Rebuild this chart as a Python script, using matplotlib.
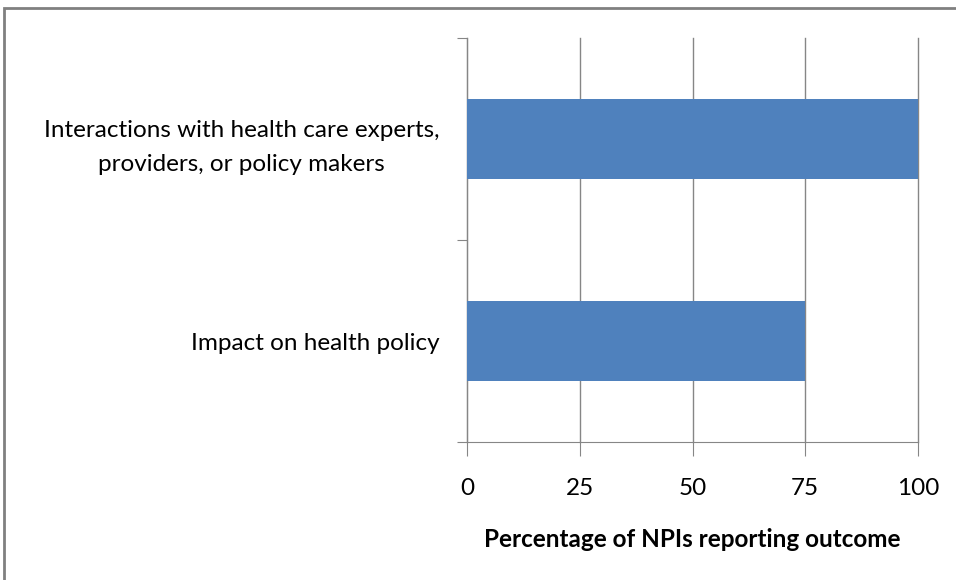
import matplotlib.pyplot as plt
from matplotlib.patches import Rectangle

categories = ["Impact on health policy",
              "Interactions with health care experts,\nproviders, or policy makers"]
values = [75, 100]
xticks = [0, 25, 50, 75, 100]

plt.rcParams['font.family'] = ['Lato', 'DejaVu Sans']
grey = "#868686"

fig = plt.figure(figsize=(9.56, 5.8), dpi=100)
ax = fig.add_axes([467 / 956, 1 - 442 / 580, (918 - 467) / 956, (442 - 38) / 580])

ax.barh(range(len(categories)), values, height=0.4, color="#4F81BD", zorder=3)
ax.set_xlim(0, 100)
ax.set_ylim(-0.5, len(categories) - 0.5)
ax.set_xticks(xticks)
ax.set_xticklabels([str(t) for t in xticks], fontsize=17.5)
ax.xaxis.grid(True, color=grey, linewidth=1, zorder=0)
for gl in ax.get_xgridlines():
    gl.set_clip_on(False)

# category ticks sit between the bars, labels at bar centres
ax.set_yticks([-0.5, 0.5, 1.5])
ax.set_yticklabels([])
ax.set_yticks(range(len(categories)), minor=True)
ax.set_yticklabels(categories, minor=True, fontsize=17.5, linespacing=1.75,
                   multialignment="center")
ax.tick_params(axis='y', which='minor', length=0, pad=20)
ax.tick_params(axis='y', which='major', length=7, color=grey)
ax.tick_params(axis='x', length=10, color=grey, pad=16)

for s in ["top", "right"]:
    ax.spines[s].set_visible(False)
for s in ["left", "bottom"]:
    ax.spines[s].set_color(grey)
ax.set_axisbelow(True)

ax.set_xlabel("Percentage of NPIs reporting outcome", fontsize=17.5, fontweight="bold", labelpad=21)

# outer chart frame
fig.patches.append(Rectangle((4 / 956, -0.1), 1.2, 1 - 8 / 580 + 0.1, transform=fig.transFigure,
                             fill=False, edgecolor="#808080", linewidth=2))

fig.savefig("out.png", dpi=100)
